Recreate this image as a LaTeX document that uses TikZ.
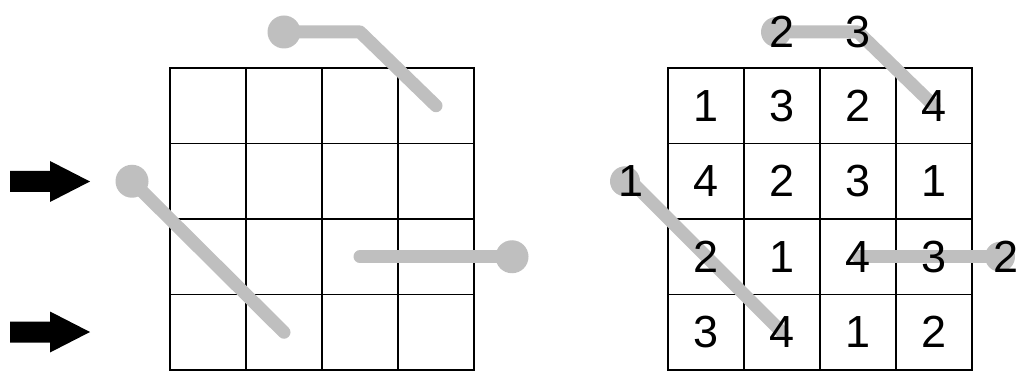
\documentclass[tikz,border=0pt]{standalone}
\usepackage{fontspec}
\setmainfont{Liberation Sans}
\usetikzlibrary{arrows.meta,calc,positioning}

\tikzset{
  gridline/.style={line width=1.6pt},
  gridframe/.style={line width=2.6pt},
  cage/.style={line width=13pt,gray!50,line cap=round,line join=round},
  cagedot/.style={fill=gray!50},
  digit/.style={font=\fontsize{45}{45}\selectfont,inner sep=0pt},
}

\begin{document}
\begin{tikzpicture}[x=1pt,y=-1pt]
  \useasboundingbox (0,0) rectangle (1019,371);

  % the two grids, 76 wide and 75.5 high per cell
  \foreach \gx in {170,668}{
    \foreach \i in {1,2,3}{
      \draw[gridline] ({\gx+76*\i},68) -- ++(0,302);
      \draw[gridline] (\gx,{68+75.5*\i}) -- ++(304,0);
    }
    \draw[gridframe] (\gx,68) rectangle ++(304,302);
  }

  % arrows
  \foreach \ay in {181.5,332}{
    \fill (10,\ay-10.5) -- (50,\ay-10.5) -- (50,\ay-20.5) -- (90,\ay)
      -- (50,\ay+20.5) -- (50,\ay+10.5) -- (10,\ay+10.5) -- cycle;
  }

  % empty grid: cell centres and outside points
  \foreach \c [evaluate=\c as \x using 132+76*\c] in {1,2,3,4}{
    \foreach \r [evaluate=\r as \y using 30.25+75.5*\r] in {1,2,3,4}{
      \coordinate (e-\r-\c) at (\x,\y);
    }
  }
  \coordinate (top2) at (284,32);
  \coordinate (top3) at (360,32);
  \coordinate (left2) at (132,181.25);
  \coordinate (right3) at (512,256.75);

  \draw[cage] (top2) -- (top3) -- (e-1-4);
  \draw[cage] (left2) -- (e-4-2);
  \draw[cage] (e-3-3) -- (right3);
  \foreach \p in {top2,left2,right3}{
    \fill[cagedot] (\p) circle (16.5);
  }

  % solved grid
  \foreach \row [count=\r] in {{1,3,2,4},{4,2,3,1},{2,1,4,3},{3,4,1,2}}{
    \foreach \v [count=\c, evaluate=\c as \x using 630+76*\c] in \row{
      \coordinate (s-\r-\c) at (\x,{30.25+75.5*\r});
    }
  }
  \coordinate (ct2) at (782,32);
  \coordinate (ct3) at (858,32);
  \coordinate (cl2) at (631,181.25);
  \coordinate (cr3) at (1006,256.75);

  \draw[cage] (ct2) -- (ct3) -- (s-1-4);
  \draw[cage] (cl2) -- (s-4-2);
  \draw[cage] (s-3-3) -- (cr3);
  \foreach \p in {ct2,cl2,cr3}{
    \fill[cagedot] (\p) ++(-6,0) circle (15);
  }

  \foreach \row [count=\r] in {{1,3,2,4},{4,2,3,1},{2,1,4,3},{3,4,1,2}}{
    \foreach \v [count=\c] in \row{
      \node[digit] (n-\r-\c) at (s-\r-\c) {\v};
    }
  }
  \node[digit] (clue-top2) at (ct2) {2};
  \node[digit] (clue-top3) at (ct3) {3};
  \node[digit] (clue-left2) at (cl2) {1};
  \node[digit] (clue-right3) at (cr3) {2};
\end{tikzpicture}
\end{document}
